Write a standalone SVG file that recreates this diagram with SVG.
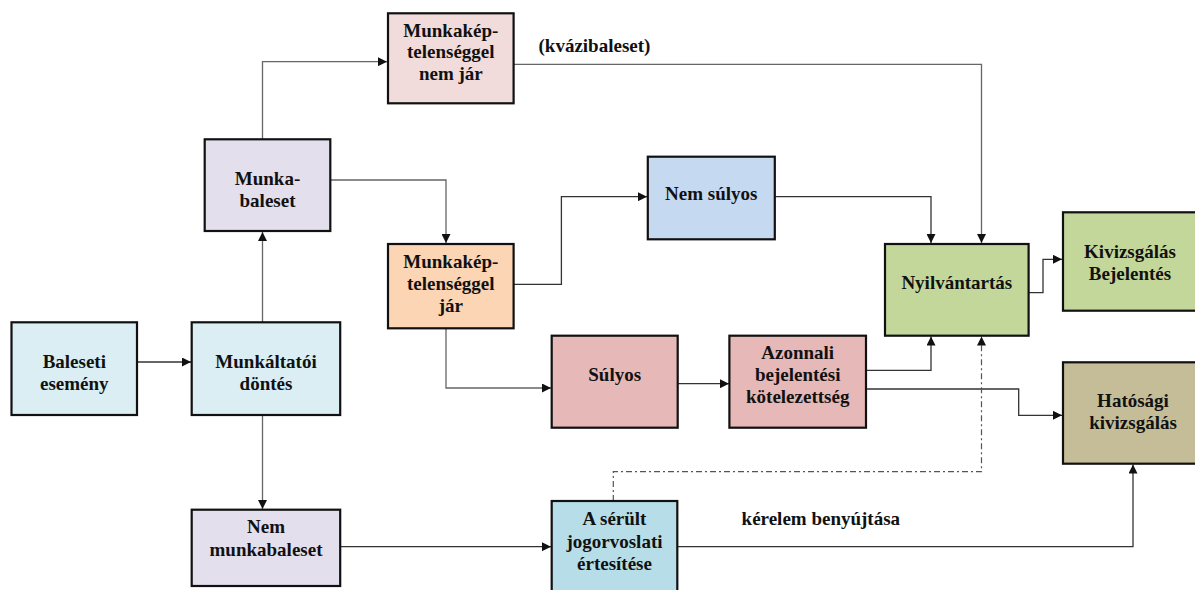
<svg xmlns="http://www.w3.org/2000/svg" width="1195" height="590" viewBox="0 0 1195 590">
<style>
.box{stroke:#111;stroke-width:2.2}
.t{font-family:'Liberation Serif','Times New Roman','DejaVu Serif',serif;font-weight:700;font-size:19px;fill:#111;text-anchor:middle}
.lbl{font-family:'Liberation Serif','Times New Roman','DejaVu Serif',serif;font-weight:700;font-size:19px;fill:#111}
.c{fill:none;stroke:#333;stroke-width:1.3}
.g{fill:none;stroke:#666;stroke-width:1.3}
.d{fill:none;stroke:#555;stroke-width:1.2;stroke-dasharray:6 3 2 3}
</style>
<defs>
<marker id="ah" viewBox="0 0 10 10" refX="10" refY="5" markerWidth="9" markerHeight="9" markerUnits="userSpaceOnUse" orient="auto">
<path d="M0,0 L10,5 L0,10 z" fill="#111"/>
</marker>
</defs>
<rect width="1195" height="590" fill="#fff"/>
<g id="connectors">
<path class="g" d="M262.5,139 V61.7 H387" marker-end="url(#ah)"/>
<path class="g" d="M330,180 H446 V243" marker-end="url(#ah)"/>
<path class="c" d="M514,284.3 H561.4 V196.7 H647" marker-end="url(#ah)"/>
<path class="g" d="M514,64.3 H981.5 V243" marker-end="url(#ah)"/>
<path class="c" d="M775,196.7 H931 V243" marker-end="url(#ah)"/>
<path class="c" d="M1028.6,292.7 H1043 V259.3 H1062" marker-end="url(#ah)"/>
<path class="c" d="M137,362 H191" marker-end="url(#ah)"/>
<path class="g" d="M262.5,322 V232" marker-end="url(#ah)"/>
<path class="g" d="M262.5,415 V509" marker-end="url(#ah)"/>
<path class="g" d="M446,328.3 V388 H551" marker-end="url(#ah)"/>
<path class="c" d="M340,546.7 H551" marker-end="url(#ah)"/>
<path class="c" d="M678,383.7 H729" marker-end="url(#ah)"/>
<path class="c" d="M866,370.3 H931 V336.5" marker-end="url(#ah)"/>
<path class="c" d="M866,389 H1018.7 V415.3 H1062" marker-end="url(#ah)"/>
<path class="d" d="M613.3,501 V471.7 H981.5 V336.5" marker-end="url(#ah)"/>
<path class="c" d="M678,546.7 H1133 V464.5" marker-end="url(#ah)"/>
</g>
<g id="n-nemjar"><rect class="box" x="388" y="13.3" width="125.6" height="90" fill="#F2DCDB"/>
<text class="t" x="450.8" y="36.7">Munkakép-</text><text class="t" x="450.8" y="58.3">telenséggel</text><text class="t" x="450.8" y="80">nem jár</text></g>
<g id="n-munkabaleset"><rect class="box" x="204.7" y="139.3" width="125.6" height="91.7" fill="#E4DFEC"/>
<text class="t" x="267.5" y="185">Munka-</text><text class="t" x="267.5" y="206.7">baleset</text></g>
<g id="n-jar"><rect class="box" x="388" y="244" width="125.6" height="84.3" fill="#FCD5B4"/>
<text class="t" x="450.8" y="268.3">Munkakép-</text><text class="t" x="450.8" y="290">telenséggel</text><text class="t" x="450.8" y="311.7">jár</text></g>
<g id="n-nemsulyos"><rect class="box" x="647.8" y="156.7" width="127" height="82.6" fill="#C5D9F1"/>
<text class="t" x="711.3" y="200">Nem súlyos</text></g>
<g id="n-nyilvantartas"><rect class="box" x="885" y="244" width="143.6" height="91.7" fill="#C4D79B"/>
<text class="t" x="956.8" y="289.3">Nyilvántartás</text></g>
<g id="n-kivizsgalas"><rect class="box" x="1063" y="212.3" width="136" height="98.4" fill="#C4D79B"/>
<text class="t" x="1130" y="258.3">Kivizsgálás</text><text class="t" x="1130" y="280">Bejelentés</text></g>
<g id="n-baleseti"><rect class="box" x="11.5" y="322.3" width="125.5" height="92.7" fill="#DAEEF3"/>
<text class="t" x="74.3" y="368.3">Baleseti</text><text class="t" x="74.3" y="390">esemény</text></g>
<g id="n-munkaltatoi"><rect class="box" x="191.7" y="322.3" width="148.5" height="92.7" fill="#DAEEF3"/>
<text class="t" x="266" y="368.3">Munkáltatói</text><text class="t" x="266" y="390">döntés</text></g>
<g id="n-sulyos"><rect class="box" x="551.7" y="335.7" width="126" height="92" fill="#E6B8B7"/>
<text class="t" x="614.7" y="380.7">Súlyos</text></g>
<g id="n-azonnali"><rect class="box" x="729.4" y="335.7" width="136.6" height="92" fill="#E6B8B7"/>
<text class="t" x="797.7" y="359">Azonnali</text><text class="t" x="797.7" y="381">bejelentési</text><text class="t" x="797.7" y="402.7">kötelezettség</text></g>
<g id="n-hatosagi"><rect class="box" x="1063" y="362.3" width="136" height="101.4" fill="#C4BD97"/>
<text class="t" x="1133" y="407.3">Hatósági</text><text class="t" x="1133" y="429">kivizsgálás</text></g>
<g id="n-nemmunkabaleset"><rect class="box" x="191.7" y="509.7" width="148.5" height="76.3" fill="#E4DFEC"/>
<text class="t" x="266" y="533.3">Nem</text><text class="t" x="266" y="556">munkabaleset</text></g>
<g id="n-serult"><rect class="box" x="551.7" y="501" width="125.6" height="95" fill="#B7DEE8"/>
<text class="t" x="614.5" y="525">A sérült</text><text class="t" x="614.5" y="548.3">jogorvoslati</text><text class="t" x="614.5" y="570">értesítése</text></g>
<g id="labels">
<text class="lbl" x="538.5" y="51.7">(kvázibaleset)</text>
<text class="lbl" x="741.6" y="525">kérelem benyújtása</text>
</g>
</svg>
